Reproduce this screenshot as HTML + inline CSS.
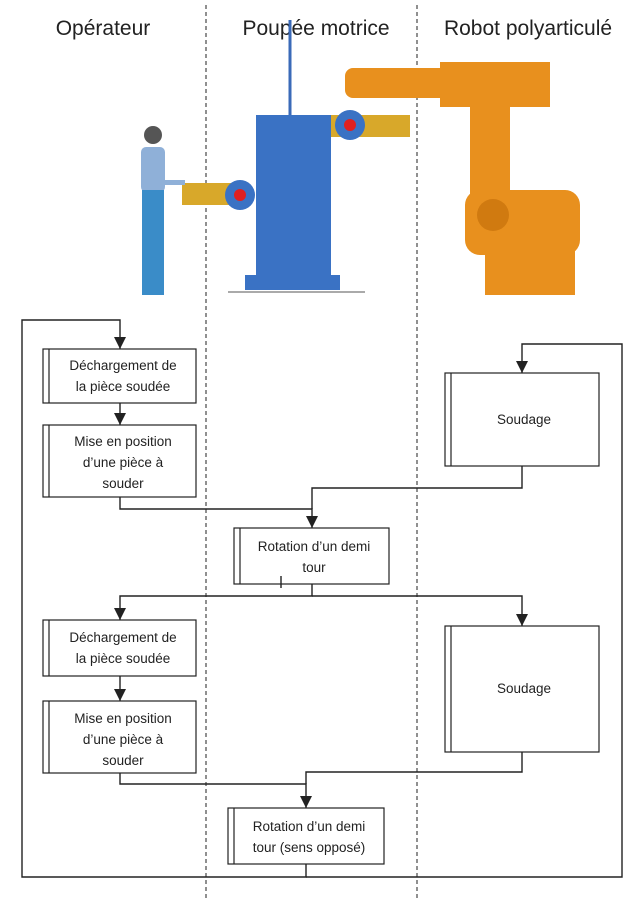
<!DOCTYPE html>
<html><head><meta charset="utf-8"><style>
body{margin:0;background:#fff}
svg{display:block}
text{font-family:"Liberation Sans",sans-serif;fill:#222}
.t{font-size:13.5px;text-anchor:middle}
.h{font-size:21px;text-anchor:middle}
.b{fill:#fff;stroke:#222;stroke-width:1.2}
.l{fill:none;stroke:#222;stroke-width:1.4}
</style></head><body>
<svg width="642" height="898" viewBox="0 0 642 898">
<defs>
<marker id="a2" viewBox="0 0 10 10" markerWidth="12" markerHeight="12" refX="10" refY="5" orient="auto" markerUnits="userSpaceOnUse"><path d="M0,0 L10,5 L0,10 z" fill="#222"/></marker></defs>
<line x1="206" y1="5" x2="206" y2="898" stroke="#222" stroke-dasharray="4,3"/>
<line x1="417" y1="5" x2="417" y2="898" stroke="#222" stroke-dasharray="4,3"/>
<text class="h" x="103" y="35">Opérateur</text>
<text class="h" x="316" y="35">Poupée motrice</text>
<text class="h" x="528" y="35">Robot polyarticulé</text>
<!-- robot -->
<g fill="#e8901e">
<rect x="345" y="68" width="110" height="30" rx="8"/>
<rect x="440" y="62" width="110" height="45"/>
<rect x="470" y="100" width="40" height="100"/>
<rect x="465" y="190" width="115" height="65" rx="15"/>
<rect x="485" y="250" width="90" height="45"/>
<circle cx="493" cy="215" r="16" fill="#d07a10"/>
</g>
<rect x="330" y="115" width="80" height="22" fill="#d8a82a"/>
<rect x="182" y="183" width="50" height="22" fill="#d8a82a"/>
<!-- machine -->
<line x1="290" y1="20" x2="290" y2="117" stroke="#3a6ab8" stroke-width="3"/>
<rect x="256" y="115" width="75" height="160" fill="#3a72c4"/>
<rect x="245" y="275" width="95" height="15" fill="#3a72c4"/>
<line x1="228" y1="292" x2="365" y2="292" stroke="#555"/>
<circle cx="240" cy="195" r="15" fill="#3a72c4"/><circle cx="240" cy="195" r="6" fill="#e02020"/>
<circle cx="350" cy="125" r="15" fill="#3a72c4"/><circle cx="350" cy="125" r="6" fill="#e02020"/>
<!-- person -->
<circle cx="153" cy="135" r="9" fill="#555"/>
<rect x="141" y="147" width="24" height="45" rx="5" fill="#8fb0d8"/>
<rect x="160" y="180" width="25" height="5" fill="#8fb0d8"/>
<rect x="142" y="190" width="22" height="105" fill="#3a8cc8"/>
<!-- boxes -->
<g>
<rect class="b" x="43" y="349" width="153" height="54"/><line class="b" x1="49" y1="349" x2="49" y2="403"/>
<text class="t" x="123" y="370">Déchargement de</text><text class="t" x="123" y="391">la pièce soudée</text>
<rect class="b" x="43" y="425" width="153" height="72"/><line class="b" x1="49" y1="425" x2="49" y2="497"/>
<text class="t" x="123" y="446">Mise en position</text><text class="t" x="123" y="467">d’une pièce  à</text><text class="t" x="123" y="488">souder</text>
<rect class="b" x="234" y="528" width="155" height="56"/><line class="b" x1="240" y1="528" x2="240" y2="584"/>
<text class="t" x="314" y="551">Rotation d’un demi</text><text class="t" x="314" y="572">tour</text>
<line class="l" x1="281" y1="576" x2="281" y2="588"/>
<rect class="b" x="445" y="373" width="154" height="93"/><line class="b" x1="451" y1="373" x2="451" y2="466"/>
<text class="t" x="524" y="424">Soudage</text>
<rect class="b" x="43" y="620" width="153" height="56"/><line class="b" x1="49" y1="620" x2="49" y2="676"/>
<text class="t" x="123" y="642">Déchargement de</text><text class="t" x="123" y="663">la pièce soudée</text>
<rect class="b" x="43" y="701" width="153" height="72"/><line class="b" x1="49" y1="701" x2="49" y2="773"/>
<text class="t" x="123" y="723">Mise en position</text><text class="t" x="123" y="744">d’une pièce  à</text><text class="t" x="123" y="765">souder</text>
<rect class="b" x="445" y="626" width="154" height="126"/><line class="b" x1="451" y1="626" x2="451" y2="752"/>
<text class="t" x="524" y="693">Soudage</text>
<rect class="b" x="228" y="808" width="156" height="56"/><line class="b" x1="234" y1="808" x2="234" y2="864"/>
<text class="t" x="309" y="831">Rotation d’un demi</text><text class="t" x="309" y="852">tour (sens opposé)</text>
</g>
<!-- connectors -->
<path class="l" d="M306,864 V877 H22 V320 H120 V349" marker-end="url(#a2)"/>
<path class="l" d="M306,877 H622 V344 H522 V373" marker-end="url(#a2)"/>
<path class="l" d="M120,403 V425" marker-end="url(#a2)"/>
<path class="l" d="M120,497 V509 H312 V528" marker-end="url(#a2)"/>
<path class="l" d="M522,466 V488 H312 V509"/>
<path class="l" d="M312,584 V596 H120 V620" marker-end="url(#a2)"/>
<path class="l" d="M312,596 H522 V626" marker-end="url(#a2)"/>
<path class="l" d="M120,676 V701" marker-end="url(#a2)"/>
<path class="l" d="M120,773 V784 H306 V808" marker-end="url(#a2)"/>
<path class="l" d="M522,752 V772 H306 V784"/>
</svg>
</body></html>
